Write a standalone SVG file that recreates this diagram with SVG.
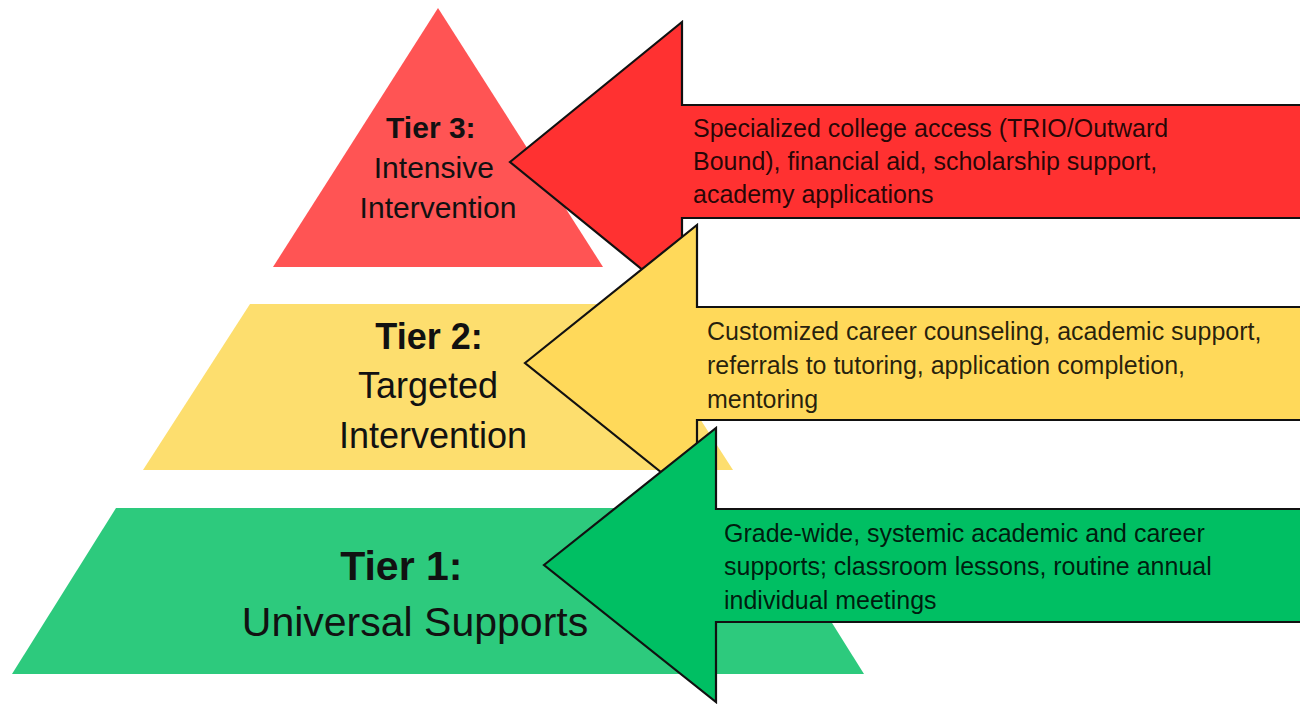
<svg xmlns="http://www.w3.org/2000/svg" width="1300" height="704" viewBox="0 0 1300 704">
  <style>
    .tier { font-family: "Liberation Sans", Arial, sans-serif; fill: #111; text-anchor: middle; }
    .tier .b { font-weight: bold; }
    .desc { font-family: "Liberation Sans", Arial, sans-serif; font-size: 25px; fill: #000; fill-opacity: 0.85; }
    .arrow { stroke: #111; stroke-width: 2.2; stroke-linejoin: miter; }
  </style>
  <rect width="1300" height="704" fill="#ffffff"/>

  <g id="tier3">
    <polygon points="438,8 603,267 273,267" fill="#FF5454"/>
    <text class="tier" font-size="30">
      <tspan class="b" x="435" y="138">Tier 3:</tspan>
      <tspan x="438" y="178">Intensive</tspan>
      <tspan x="438" y="218">Intervention</tspan>
    </text>
  </g>

  <g id="connectors">
    <g id="arrow3">
      <polygon class="arrow" points="510,162 682,22 682,105 1302,105 1302,218 682,218 682,302" fill="#FF3131"/>
    </g>
  </g>

  <g id="tier2">
    <polygon points="250,304 626,304 733,470 143,470" fill="#FDDE6E"/>
    <text class="tier" font-size="36">
      <tspan class="b" x="434" y="349">Tier 2:</tspan>
      <tspan x="433" y="398">Targeted</tspan>
      <tspan x="433" y="448">Intervention</tspan>
    </text>
  </g>

  <g id="connectors2">
    <g id="arrow2">
      <polygon class="arrow" points="525,363 697,225 697,307 1302,307 1302,420 697,420 697,501" fill="#FFD95A"/>
    </g>
  </g>

  <g id="tier1">
    <polygon points="116,508 760,508 864,674 12,674" fill="#2DCA7D"/>
    <text class="tier" font-size="41">
      <tspan class="b" x="407" y="580">Tier 1:</tspan>
      <tspan x="415" y="636">Universal Supports</tspan>
    </text>
  </g>

  <g id="connectors3">
    <g id="arrow1">
      <polygon class="arrow" points="544,565 716,428 716,509 1302,509 1302,622 716,622 716,702" fill="#00BF63"/>
    </g>
  </g>

  <g id="desc3">
    <text class="desc">
      <tspan x="693" y="137">Specialized college access (TRIO/Outward</tspan>
      <tspan x="693" y="170">Bound), financial aid, scholarship support,</tspan>
      <tspan x="693" y="203">academy applications</tspan>
    </text>
  </g>
  <g id="desc2">
    <text class="desc">
      <tspan x="707" y="340">Customized career counseling, academic support,</tspan>
      <tspan x="707" y="374">referrals to tutoring, application completion,</tspan>
      <tspan x="707" y="408">mentoring</tspan>
    </text>
  </g>
  <g id="desc1">
    <text class="desc">
      <tspan x="724" y="542">Grade-wide, systemic academic and career</tspan>
      <tspan x="724" y="575">supports; classroom lessons, routine annual</tspan>
      <tspan x="724" y="609">individual meetings</tspan>
    </text>
  </g>
</svg>
